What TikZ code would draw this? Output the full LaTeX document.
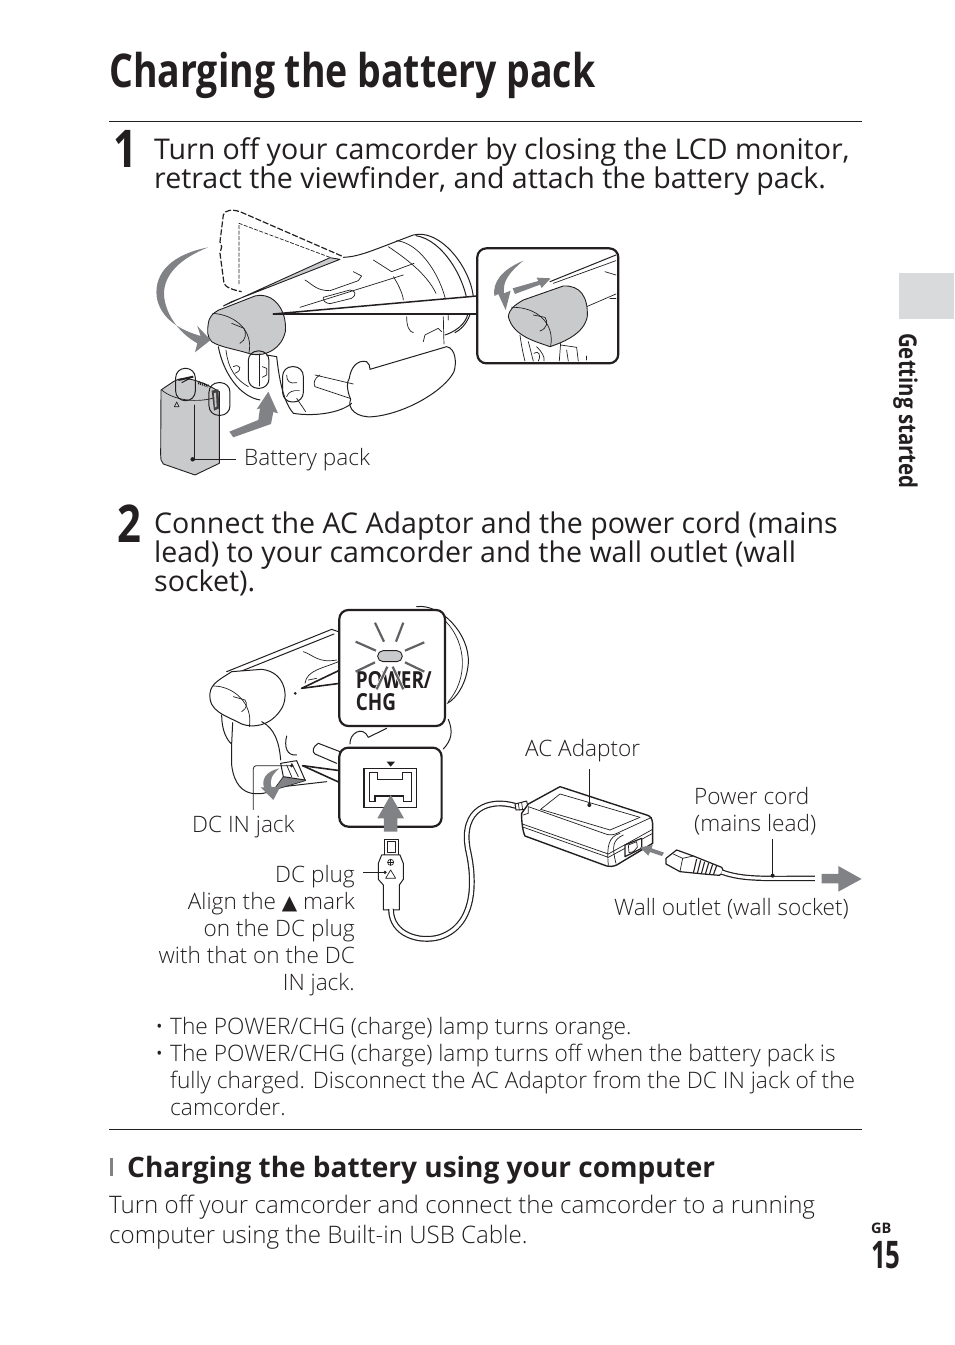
\documentclass[tikz,border=0pt]{standalone}
\usepackage{fontspec}
\setmainfont{Open Sans}
\newfontfamily\condbold[FakeStretch=0.805]{Open Sans Bold}
\newfontfamily\sidefont[FakeStretch=0.833]{Open Sans Bold}
\newfontfamily\pagefont[FakeStretch=0.68]{Open Sans Bold}
\newfontfamily\gbfont[FakeStretch=1.0]{Open Sans Bold}
\newfontfamily\capfont[FakeStretch=1.0]{Open Sans Light}
\definecolor{ink}{HTML}{231F20}
\definecolor{agray}{HTML}{808285}
\definecolor{lgray}{HTML}{C9CACC}
\definecolor{tabgray}{HTML}{D9DADB}
\newcommand{\fs}[1]{\fontsize{#1}{#1}\selectfont}
\tikzset{
  txt/.style={inner sep=0,anchor=base west,text=ink},
  rtxt/.style={inner sep=0,anchor=base east,text=ink},
  step body/.style={txt,font=\fs{28.55}},
  capt/.style={txt,font=\capfont\fs{22.6}},
  rcapt/.style={rtxt,font=\capfont\fs{22.6}},
  para/.style={txt,font=\capfont\fs{22.7}},
  ln/.style={draw=ink,line width=1pt,line cap=round,line join=round},
  thin ln/.style={draw=ink,line width=0.7pt,line cap=round,line join=round},
  thick ln/.style={draw=ink,line width=1.6pt,line cap=round,line join=round},
  box ln/.style={draw=ink,line width=2.2pt,rounded corners=9pt,fill=white},
  lightfill/.style={fill=lgray,draw=ink,line width=0.9pt,line join=round},
  dotend/.style={fill=ink,draw=none},
  ray/.style={draw=agray!75!black,line width=2.2pt},
}
\begin{document}
\begin{tikzpicture}[x=1pt,y=-1pt]
\useasboundingbox (0,0) rectangle (954,1345);
\fill[white] (0,0) rectangle (954,1345);

% ---------- headings and text
\node[txt,font=\condbold\fs{46.5}] (title) at (109,87.5) {Charging the battery pack};
\coordinate (ruleAa) at (109,121.5); \coordinate (ruleAb) at (862,121.5);
\draw[draw=ink,line width=0.9pt] (ruleAa) -- (ruleAb);
\node[txt,font=\condbold\fs{52}] (numone) at (113,167) {1};
\node[step body] (s1a) at (154,159) {Turn off your camcorder by closing the LCD monitor,};
\node[step body] (s1b) at (154,188) {retract the viewfinder, and attach the battery pack.};
\node[txt,font=\condbold\fs{52}] (numtwo) at (117,542) {2};
\node[step body] (s2a) at (154,533) {Connect the AC Adaptor and the power cord (mains};
\node[step body] (s2b) at (154,562) {lead) to your camcorder and the wall outlet (wall};
\node[step body] (s2c) at (154,591) {socket).};

\node[para] (bu1) at (155,1034) {•};
\node[para] (b1) at (170,1034) {The POWER/CHG (charge) lamp turns orange.};
\node[para] (bu2) at (155,1061) {•};
\node[para] (b2) at (170,1061) {The POWER/CHG (charge) lamp turns off when the battery pack is};
\node[para] (b2b) at (170,1088) {fully charged. Disconnect the AC Adaptor from the DC IN jack of the};
\node[para] (b2c) at (170,1115) {camcorder.};
\coordinate (ruleBa) at (109,1129.5); \coordinate (ruleBb) at (862,1129.5);
\draw[draw=ink,line width=0.9pt] (ruleBa) -- (ruleBb);
\fill[agray] (110,1158) rectangle (113,1176);
\node[txt,font=\bfseries\fs{28}] (sub) at (127,1177) {Charging the battery using your computer};
\node[para,font=\capfont\fs{24.1}] (p1) at (109,1213) {Turn off your camcorder and connect the camcorder to a running};
\node[para,font=\capfont\fs{24.1}] (p2) at (109,1243) {computer using the Built-in USB Cable.};

% side tab and page number
\fill[tabgray] (899,273) rectangle (954,319);
\node[inner sep=0,anchor=base west,rotate=-90,text=ink,font=\sidefont\fs{24.5}] (side) at (899,333) {Getting started};
\node[txt,font=\gbfont\fs{14.5}] (gb) at (871,1233) {GB};
\node[txt,font=\pagefont\fs{38}] (pg) at (871,1268) {15};

% ---------- FIGURE 1
\begin{scope}[shift={(140,200)},x=0.3333pt,y=-0.3333pt]
  % lens and barrel
  \draw[ln] (610,172) .. controls (660,170) and (700,150) .. (820,105) .. controls (900,85) and (990,200) .. (1000,290);
  \draw[ln] (828,107) .. controls (910,120) and (980,240) .. (985,330) .. controls (985,360) and (960,390) .. (915,405);
  \draw[thin ln] (770,122) .. controls (850,130) and (925,260) .. (925,360);
  \draw[thin ln] (745,140) .. controls (790,170) and (860,220) .. (888,280);
  \draw[ln] (1000,290) .. controls (998,340) and (980,380) .. (945,398);
  % top details
  \draw[thin ln] (700,180) -- (755,215) -- (822,190);
  \draw[thin ln] (495,240) .. controls (520,255) and (530,272) .. (570,272) -- (655,242) -- (665,228) -- (640,215);
  \draw[thin ln] (550,292) -- (630,270) .. controls (648,272) and (650,285) .. (635,295) -- (570,311) .. controls (555,310) and (548,300) .. (550,292);
  \draw[thin ln] (480,322) -- (790,225);
  \draw[thin ln] (760,230) .. controls (780,260) and (790,290) .. (790,300);
  \draw[thin ln] (800,350) .. controls (800,380) and (808,395) .. (820,398);
  \draw[thin ln] (910,350) -- (912,432);
  \draw[thin ln] (850,425) -- (855,405) -- (895,385) -- (905,395);
  % lcd dashed
  \draw[draw=ink,line width=1.2pt,dashed,dash pattern=on 6pt off 2pt] (605,168) -- (300,35) .. controls (275,27) and (255,30) .. (250,45) -- (240,125) -- (245,140) -- (240,160) -- (252,250) .. controls (256,262) and (280,270) .. (305,275);
  \draw[draw=ink,line width=0.7pt,dashed,dash pattern=on 4pt off 1.5pt] (570,172) -- (297,70) -- (297,255);
  % grip
  \draw[ln,fill=white] (690,508) -- (920,440) .. controls (948,445) and (950,490) .. (942,515) .. controls (915,570) and (800,640) .. (700,650) .. controls (650,655) and (620,625) .. (632,598) .. controls (620,570) and (620,545) .. (628,535) .. controls (632,505) and (650,478) .. (680,485) .. controls (688,490) and (690,500) .. (690,508);
  \draw[thin ln] (525,525) -- (640,552);
  \draw[thin ln] (525,560) -- (630,595);
  \draw[thin ln] (540,525) .. controls (522,535) and (520,550) .. (525,560);
  % lower body
  \draw[ln] (235,440) .. controls (250,520) and (300,590) .. (360,600);
  \draw[ln] (380,465) -- (410,470) .. controls (420,560) and (435,610) .. (460,640) .. controls (520,650) and (600,640) .. (635,610);
  \draw[thin ln] (258,450) .. controls (265,510) and (290,540) .. (325,560);
  \draw[thin ln] (280,500) .. controls (300,490) and (310,510) .. (285,520);
  \draw[thin ln] (470,595) -- (497,635);
  % gray strip
  \path[lightfill] (250,318) -- (570,173) -- (600,178) -- (275,305) -- cycle;
  % eyecup
  \path[lightfill] (205,370) .. controls (208,345) and (230,330) .. (250,325) -- (345,288) .. controls (400,275) and (442,330) .. (436,395) .. controls (425,445) and (380,470) .. (335,463) .. controls (290,448) and (240,442) .. (215,425) .. controls (200,410) and (202,390) .. (205,370) -- cycle;
  \draw[thin ln] (218,340) .. controls (290,345) and (340,395) .. (327,458);
  \draw[thin ln] (275,370) -- (312,385) .. controls (320,400) and (318,420) .. (300,430);
  % wedge
  \fill[white] (400,342) -- (1012,288) -- (1012,342) -- cycle;
  \coordinate (wedgeTip) at (400,342);
  \coordinate (insetA) at (1012,288);
  \coordinate (insetB) at (1012,342);
  \draw[thick ln,line width=1.5pt] (wedgeTip) -- (insetA);
  \draw[thick ln,line width=1.5pt] (wedgeTip) -- (insetB);
  % rotate arrow
  \fill[agray] (205,142) .. controls (100,162) and (42,215) .. (50,290) .. controls (58,342) and (100,385) .. (182,408) -- (172,378) -- (212,420) -- (165,457) -- (172,430) .. controls (110,395) and (75,335) .. (72,285) .. controls (70,225) and (120,175) .. (205,142) -- cycle;
  % ovals
  \draw[ln,rounded corners=9.5pt] (325,453) rectangle (387,565);
  \draw[thin ln] (357,462) -- (357,558);
  \draw[thin ln] (367,500) -- (380,505) -- (380,525) -- (367,532);
  \draw[ln,rounded corners=9.5pt] (428,500) rectangle (490,606);
  \draw[thin ln] (440,525) .. controls (440,545) and (450,552) .. (470,548);
  \draw[thin ln] (440,590) .. controls (445,575) and (460,570) .. (478,572);
  % up arrow
  \fill[agray] (268,695) -- (355,660) -- (360,625) -- (350,628) -- (385,575) -- (414,640) -- (400,636) -- (393,672) -- (280,712) -- cycle;
  % battery
  \path[lightfill] (63,570) -- (100,545) .. controls (130,525) and (180,540) .. (238,575) -- (238,790) -- (165,825) -- (70,792) .. controls (62,785) and (62,775) .. (62,765) -- cycle;
  \draw[thin ln] (65,570) .. controls (100,600) and (170,612) .. (235,590);
  \draw[thin ln] (163,615) -- (163,780);
  \draw[thin ln] (103,620) -- (110,606) -- (117,620) -- cycle;
  \draw[line width=2pt,draw=ink] (115,540) -- (160,530);
  \draw[line width=1pt,draw=ink] (125,548) -- (150,535);
  \draw[line width=3pt,draw=ink,dash pattern=on 1pt off 1pt] (175,548) -- (205,558);
  \fill[ink!85] (215,572) -- (235,568) -- (238,625) -- (222,632) -- cycle;
  \fill[lgray] (222,580) -- (228,578) -- (230,620) -- (225,622) -- cycle;
  \draw[ln,rounded corners=9.5pt] (107,505) rectangle (166,602);
  \draw[ln,rounded corners=9.5pt] (207,548) rectangle (270,646);
  % leader
  \fill[dotend] (158,778) circle (2.2pt);
  \coordinate (battDot) at (158,778);
  \coordinate (battEnd) at (288,778);
  \draw[draw=ink,line width=1pt] (battDot) -- (battEnd);
  % inset
  \draw[box ln] (1012,145) rectangle (1435,490);
  \begin{scope}
  \clip[rounded corners=9pt] (1012,145) rectangle (1435,490);
  \draw[ln] (1230,245) -- (1428,165);
  \draw[thin ln] (1240,250) -- (1428,182);
  \draw[thin ln] (1340,320) -- (1428,282);
  \draw[thin ln] (1395,215) -- (1428,225);
  \draw[thin ln] (1410,295) -- (1428,295);
  \draw[thin ln] (1140,405) .. controls (1145,440) and (1150,465) .. (1155,483);
  \draw[thin ln] (1165,425) .. controls (1172,450) and (1175,465) .. (1180,483);
  \draw[thin ln] (1190,440) .. controls (1205,455) and (1215,470) .. (1212,483);
  \draw[thin ln] (1182,460) .. controls (1195,450) and (1205,465) .. (1195,483);
  \draw[thin ln] (1262,430) -- (1258,483);
  \draw[thin ln] (1262,435) -- (1310,442) -- (1315,483);
  \draw[thin ln] (1280,450) -- (1285,483);
  \draw[thin ln] (1340,468) -- (1340,480);
  \end{scope}
  \path[lightfill] (1105,350) .. controls (1108,325) and (1130,312) .. (1150,300) -- (1270,258) .. controls (1320,255) and (1345,290) .. (1342,350) .. controls (1332,400) and (1275,425) .. (1230,440) .. controls (1190,425) and (1120,410) .. (1105,350) -- cycle;
  \draw[thin ln] (1115,322) .. controls (1190,320) and (1245,370) .. (1232,438);
  \draw[thin ln] (1180,345) -- (1215,352) .. controls (1225,365) and (1222,385) .. (1200,393);
  \fill[agray] (1150,182) .. controls (1085,210) and (1058,245) .. (1063,288) -- (1075,282) -- (1097,330) -- (1112,272) -- (1092,280) .. controls (1088,245) and (1105,220) .. (1150,182) -- cycle;
  \fill[agray] (1118,265) -- (1195,243) -- (1190,233) -- (1232,235) -- (1205,264) -- (1200,254) -- (1125,282) -- cycle;
\end{scope}
\node[capt] (lblbatt) at (244,465) {Battery pack};

% ---------- FIGURE 2
\begin{scope}[shift={(190,600)},x=0.3333pt,y=-0.3333pt]
  % lens
  \draw[ln] (680,20) .. controls (750,10) and (840,100) .. (835,190) .. controls (830,250) and (800,295) .. (772,310);
  \draw[thin ln] (768,65) .. controls (830,130) and (835,235) .. (775,305);
  \draw[ln] (775,358) .. controls (790,395) and (785,420) .. (760,447);
  % body
  \draw[ln] (110,215) -- (425,88) -- (445,95);
  \draw[ln] (125,225) -- (432,102);
  \draw[thin ln] (340,155) .. controls (370,165) and (385,190) .. (440,180);
  \draw[thin ln] (345,250) .. controls (350,210) and (400,205) .. (445,185);
  \draw[thin ln] (355,240) -- (380,235);
  % eyecup
  \draw[ln,fill=white] (60,280) .. controls (62,250) and (95,235) .. (125,215) -- (215,208) .. controls (285,215) and (300,290) .. (272,330) .. controls (240,378) and (190,385) .. (155,372) .. controls (105,345) and (55,335) .. (60,280) -- cycle;
  \draw[thin ln] (70,258) .. controls (130,258) and (190,310) .. (178,380);
  \draw[thin ln] (130,290) -- (165,300) .. controls (172,310) and (172,325) .. (155,335);
  \fill[ink] (316,280) circle (1.5pt);
  % lower body
  \draw[ln] (95,345) .. controls (95,390) and (110,420) .. (125,432) -- (125,495) .. controls (132,555) and (160,575) .. (185,580) .. controls (220,585) and (245,575) .. (262,560);
  \draw[ln] (128,368) -- (125,432);
  \draw[ln] (215,365) .. controls (255,385) and (268,430) .. (272,480);
  \draw[ln] (290,408) .. controls (282,440) and (290,468) .. (320,465);
  \draw[ln] (480,432) .. controls (478,400) and (518,375) .. (535,412) -- (590,385);
  \draw[ln] (385,430) -- (450,455);
  \draw[ln] (385,430) .. controls (368,440) and (365,455) .. (375,462) -- (440,490);
  \draw[ln] (262,562) -- (410,545);
  % jack
  \path[fill=agray,draw=ink,line width=0.6pt] (258,560) -- (280,530) -- (335,520) -- (347,542) -- (265,566) -- cycle;
  \draw[ln,fill=white] (272,490) -- (320,482) -- (345,540) -- (280,530) -- cycle;
  \draw[thin ln] (290,495) -- (305,530);
  \draw[thin ln] (305,490) -- (325,530);
  % gray curved arrow
  \fill[agray] (268,505) .. controls (225,515) and (215,540) .. (222,562) -- (212,562) -- (250,600) -- (272,558) -- (245,562) .. controls (238,540) and (245,525) .. (268,505) -- cycle;
  % leader
  \coordinate (jackDot) at (305,497);
  \coordinate (jackEnd) at (190,630);
  \fill[dotend] (jackDot) circle (1.8pt);
  \draw[draw=ink,line width=0.8pt,rounded corners=3pt] (jackDot) -- (190,497) -- (jackEnd);
  % wedges
  \fill[white] (335,265) -- (450,210) -- (450,250) -- cycle;
  \coordinate (ledTip) at (335,265);
  \coordinate (ledA) at (450,210);
  \coordinate (ledB) at (450,250);
  \draw[thick ln] (ledTip) -- (ledA);
  \draw[thick ln] (ledTip) -- (ledB);
  \fill[white] (338,497) -- (450,512) -- (450,548) -- cycle;
  \coordinate (dcTip) at (338,497);
  \coordinate (dcA) at (450,512);
  \coordinate (dcB) at (450,548);
  \draw[thick ln] (dcTip) -- (dcA);
  \draw[thick ln] (dcTip) -- (dcB);
  % upper box
  \draw[box ln] (448,30) rectangle (765,378);
  \node[txt,font=\condbold\fs{23.5}] (pw) at (497,265) {POWER/};
  \node[txt,font=\condbold\fs{23.5}] (chg) at (497,331) {CHG};
  \foreach \a/\b/\c/\d in {555/68/582/125, 640/68/618/125, 497/125/558/152, 703/127/645/152, 497/215/555/187, 703/215/645/187}
    \draw[ray] (\a,\b) -- (\c,\d);
  \draw[draw=white,line width=3.6pt] (560,268) -- (592,200);
  \draw[draw=white,line width=3.6pt] (640,268) -- (608,200);
  \draw[ray] (560,268) -- (592,200);
  \draw[ray] (640,268) -- (608,200);
  \draw[lightfill,rounded corners=5.4pt] (563,152) rectangle (637,185);
  % lower box
  \draw[box ln] (448,443) rectangle (755,680);
  \draw[draw=ink,line width=1.3pt] (522,505) rectangle (680,622);
  \draw[draw=ink,line width=1.2pt] (538,518) -- (562,518) -- (562,538) -- (638,538) -- (638,518) -- (665,518) -- (665,605) -- (640,605) -- (640,588) -- (555,588) -- (555,605) -- (538,605) -- cycle;
  \fill[ink] (590,485) -- (615,485) -- (602,500) -- cycle;
  \fill[agray] (602,585) -- (642,655) -- (622,655) -- (622,695) -- (582,695) -- (582,655) -- (562,655) -- cycle;
  % plug
  \draw[ln,fill=white] (583,718) rectangle (625,768);
  \draw[thin ln] (592,725) rectangle (617,756);
  \draw[ln,fill=white] (575,765) -- (630,765) -- (640,790) -- (640,838) -- (628,855) -- (628,930) -- (580,930) -- (580,855) -- (565,838) -- (565,790) -- cycle;
  \draw[thin ln] (602,787) circle (3pt);
  \draw[thin ln] (593,787) -- (611,787);
  \draw[thin ln] (602,778) -- (602,796);
  \draw[thin ln] (602,810) -- (617,835) -- (587,835) -- cycle;
  \coordinate (plugDot) at (585,817);
  \coordinate (plugEnd) at (520,817);
  \fill[dotend] (plugDot) circle (1.8pt);
  \draw[draw=ink,line width=0.8pt] (plugDot) -- (plugEnd);
\end{scope}
% cable
\coordinate (cableA) at (391,909);
\coordinate (cableB) at (516,806);
\draw[draw=ink,line width=5.8pt] (cableA) .. controls (391,935) and (420,943) .. (440,937) .. controls (476,925) and (475,880) .. (468,850) .. controls (460,808) and (490,798) .. (cableB);
\draw[draw=white,line width=3.4pt] (cableA) .. controls (391,935) and (420,943) .. (440,937) .. controls (476,925) and (475,880) .. (468,850) .. controls (460,808) and (490,798) .. (cableB);

\begin{scope}[shift={(460,730)},x=0.3333pt,y=-0.3333pt]
  % strain relief
  \draw[ln,fill=white] (165,222) -- (200,213) -- (205,238) -- (168,240) -- cycle;
  \draw[thin ln] (175,220) -- (178,240);
  \draw[thin ln] (185,218) -- (188,240);
  % adapter
  \draw[ln,line width=1.4pt,fill=white] (205,222) -- (300,170) -- (560,255) .. controls (572,258) and (576,265) .. (578,280) -- (578,340) -- (470,405) .. controls (458,410) and (450,410) .. (440,408) -- (195,318) .. controls (188,305) and (184,270) .. (185,250) -- cycle;
  \draw[thin ln] (205,230) -- (440,313) .. controls (452,316) and (462,315) .. (475,308) -- (575,262);
  \draw[thin ln] (242,238) -- (300,192) -- (540,262);
  \draw[thin ln] (450,300) -- (540,262);
  \draw[thin ln] (242,238) -- (450,300);
  \draw[thin ln] (205,232) -- (205,250) -- (190,255);
  \draw[thin ln] (187,282) -- (445,372);
  \draw[thin ln] (188,291) -- (445,382);
  \draw[thin ln] (445,372) -- (578,298);
  \draw[thin ln] (445,382) -- (578,310);
  \draw[thin ln] (445,405) .. controls (440,350) and (445,320) .. (480,310);
  \draw[thin ln] (468,400) .. controls (455,350) and (458,330) .. (490,315);
  \draw[ln,line width=1.2pt,fill=white] (495,345) -- (545,325) -- (545,355) -- (495,380) -- cycle;
  \draw[thin ln] (505,345) -- (530,335) -- (532,352) -- (520,365) -- (507,368) -- cycle;
  % small gray arrow
  \fill[agray] (612,368) -- (575,355) -- (578,345) -- (540,352) -- (565,377) -- (570,366) -- (606,378) -- cycle;
  % plug
  \draw[ln,line width=1.2pt,fill=white] (618,385) -- (650,360) -- (700,378) -- (785,412) .. controls (792,420) and (788,432) .. (778,436) -- (730,432) -- (660,425) -- (618,402) -- cycle;
  \draw[thin ln] (640,372) -- (668,385) -- (660,424);
  \draw[thin ln] (668,385) -- (700,378);
  \foreach \x/\s in {710/0,722/1,734/2,746/3,758/4,770/5}
    \draw[draw=ink,line width=1.1pt] (\x,387+\s*4) -- (\x-10,430+\s*1);
  % cord
  \coordinate (cordA) at (785,426);
  \coordinate (cordB) at (1065,445);
  \draw[draw=ink,line width=5.4pt] (cordA) .. controls (850,450) and (920,445) .. (cordB);
  \draw[draw=white,line width=3pt] (cordA) .. controls (850,450) and (920,445) .. (cordB);
  % leaders
  \coordinate (acDot) at (388,225);
  \coordinate (acEnd) at (388,118);
  \fill[dotend] (acDot) circle (2pt);
  \draw[draw=ink,line width=1.1pt] (acDot) -- (acEnd);
  \coordinate (cordDot) at (938,437);
  \coordinate (cordEnd) at (938,328);
  \fill[dotend] (cordDot) circle (2pt);
  \draw[draw=ink,line width=1.1pt] (cordDot) -- (cordEnd);
  % arrow
  \fill[agray] (1085,432) -- (1135,432) -- (1135,408) -- (1205,447) -- (1135,485) -- (1135,460) -- (1085,460) -- cycle;
\end{scope}

\node[capt] (lblac) at (525,756) {AC Adaptor};
\node[capt] (lblpc) at (694,804) {Power cord};
\node[capt] (lblml) at (694,831) {(mains lead)};
\node[capt] (lblwo) at (614,915) {Wall outlet (wall socket)};
\node[capt] (lbljack) at (192,832) {DC IN jack};
\node[rcapt] (l1) at (355,882) {DC plug};
\node[rcapt] (l2) at (355,909) {Align the {\fontspec{DejaVu Sans}\fs{20}▲} mark};
\node[rcapt] (l3) at (355,936) {on the DC plug};
\node[rcapt] (l4) at (355,963) {with that on the DC};
\node[rcapt] (l5) at (355,990) {IN jack.};
\end{tikzpicture}
\end{document}
